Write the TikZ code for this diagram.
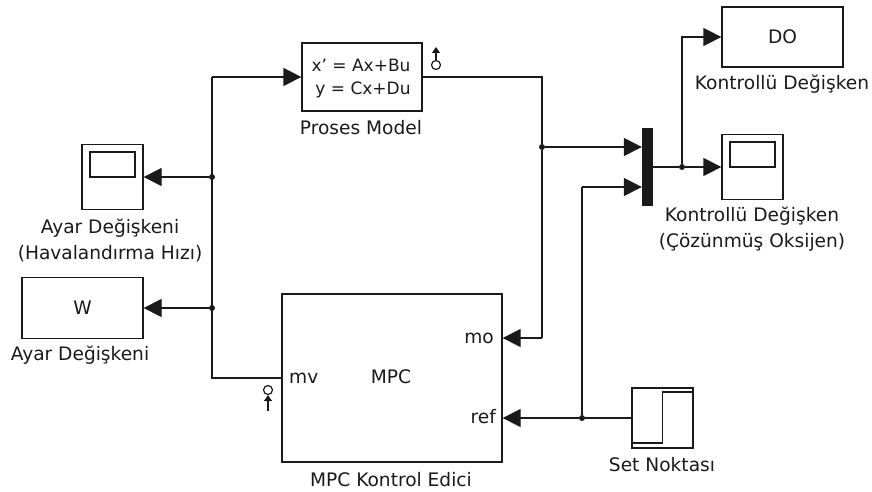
\documentclass[tikz,border=0pt]{standalone}
\usepackage{fontspec}
\setmainfont{DejaVu Sans}
\usetikzlibrary{arrows.meta,calc}
\definecolor{wirecolor}{HTML}{1A1A1A}
\newcommand{\labelsize}{\fontsize{18.6}{26}\selectfont}
\newcommand{\mathsize}{\fontsize{17}{26}\selectfont}
\tikzset{
	block/.style={draw=wirecolor, line width=1.3pt, fill=white, inner sep=0pt, text=wirecolor, font=\labelsize},
	blocktext/.style={text=wirecolor, inner sep=0pt, font=\labelsize, align=center},
	wire/.style={draw=wirecolor, line width=1.3pt},
	signal/.style={wire, -{Triangle[length=18pt,width=18pt]}},
	joint/.style={circle, fill=wirecolor, inner sep=0pt, minimum size=6pt},
	portring/.style={draw=wirecolor, line width=1.2pt, circle, inner sep=0pt, minimum size=9pt},
}
\newcommand{\makescope}[6]{
	\node[block, minimum width=61pt, minimum height=65pt] (#1) at (#2,#3) {};
	\node[block, minimum width=45pt, minimum height=25pt] (#1screen) at (#2,#3-12.5) {};
	\node[blocktext] (#1label) at (#4,#5) {#6};
}

\begin{document}
\begin{tikzpicture}[x=1pt,y=-1pt]
	\useasboundingbox (0,0) rectangle (872,492);

	% blocks
	\node[block, minimum width=120pt, minimum height=68pt] (proses) at (362,77) {};
	\node[blocktext, font=\mathsize] (prosesA) at (361,65) {x' = Ax+Bu};
	\node[blocktext, font=\mathsize] (prosesB) at (363,90) {y = Cx+Du};
	\node[blocktext] (proseslabel) at (361,128) {Proses Model};

	\node[block, minimum width=121pt, minimum height=60pt] (do) at (782.5,37) {DO};
	\node[blocktext] (dolabel) at (782,84) {Kontrollü Değişken};

	\makescope{doscope}{752.5}{167}{752}{229.5}{Kontrollü Değişken\\(Çözünmüş Oksijen)}
	\makescope{mvscope}{112.5}{177}{110}{240}{Ayar Değişkeni\\(Havalandırma Hızı)}

	\node[block, minimum width=121pt, minimum height=61pt] (w) at (82.5,308) {W};
	\node[blocktext] (wlabel) at (80,355) {Ayar Değişkeni};

	\node[block, minimum width=220pt, minimum height=168pt] (mpc) at (392,378) {};
	\node[blocktext] (mpcname) at (391,377) {MPC};
	\node[blocktext, anchor=west] (mv) at (289,378) {mv};
	\node[blocktext, anchor=east] (mo) at (494,338) {mo};
	\node[blocktext, anchor=east] (ref) at (496,417) {ref};
	\node[blocktext] (mpclabel) at (391,480) {MPC Kontrol Edici};

	\node[block, minimum width=61pt, minimum height=60pt] (setpoint) at (662.5,418) {};
	\node[blocktext] (setlabel) at (662,465) {Set Noktası};
	\draw[wire] ($(setpoint.west)+(0,25)$) -| ($(setpoint.center)+(0,-26)$) -- ($(setpoint.east)+(0,-26)$);

	\node[fill=wirecolor, inner sep=0pt, minimum width=11pt, minimum height=78pt] (mux) at (647.5,167) {};

	% junctions
	\node[joint] (jmvscope) at (212,177) {};
	\node[joint] (jw) at (212,308) {};
	\node[joint] (jmeas) at (542,147) {};
	\node[joint] (jout) at (682,167) {};
	\node[joint] (jref) at (582,418) {};

	\coordinate (muxA) at (mux.west |- jmeas);
	\coordinate (muxB) at (mux.west |- 0,187);
	\coordinate (mvend) at (212,378);
	\coordinate (prosesin) at (212,77);
	\coordinate (moend) at (mpc.east |- 0,338);
	\coordinate (moturn) at (jmeas |- 0,338);
	\coordinate (refturn) at (jref |- 0,187);

	% wires
	\draw[wire] (mpc.west) -- (mvend) -- (prosesin);
	\draw[signal] (prosesin) -- (proses.west);
	\draw[signal] (jmvscope) -- (mvscope.east);
	\draw[signal] (jw) -- (w.east);
	\draw[wire] (proses.east) -| (jmeas);
	\draw[signal] (jmeas) -- (muxA);
	\draw[wire] (jmeas) -- (moturn);
	\draw[signal] (moturn) -- (moend);
	\draw[wire] (setpoint.west) -- (jref);
	\draw[signal] (jref) -- (mpc.east |- jref);
	\draw[wire] (jref) -- (refturn);
	\draw[signal] (refturn) -- (muxB);
	\draw[wire] (mux.east) -- (jout);
	\draw[signal] (jout) -- (doscope.west);
	\draw[signal] (jout) |- (do.west);

	% port marks
	\node[portring] (prosesport) at (436,65) {};
	\coordinate (prosesporttop) at (436,47);
	\draw[wire, -{Triangle[length=6pt,width=8pt]}] (prosesport) -- (prosesporttop);
	\node[portring] (mpcport) at (268,390) {};
	\coordinate (mpcportfoot) at (268,411);
	\draw[wire, -{Triangle[length=6pt,width=8pt]}] (mpcportfoot) -- (mpcport);
\end{tikzpicture}
\end{document}
